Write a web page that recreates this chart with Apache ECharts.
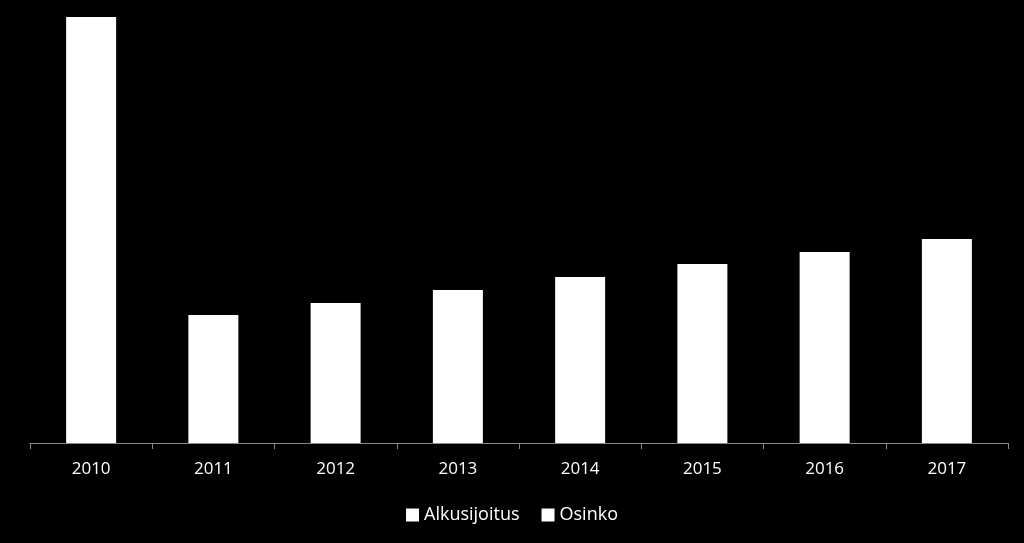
<!DOCTYPE html><html><head><meta charset="utf-8"><script src="https://cdn.jsdelivr.net/npm/echarts@6/dist/echarts.min.js"></script></head><body style="margin:0;background:#000"><div id="c" style="width:1024px;height:543px"></div><script>
const categories=['2010','2011','2012','2013','2014','2015','2016','2017'];
const alkusijoitus=[426,'-','-','-','-','-','-','-'];
const osinko=['-',128,140,153,166,179,191,204];
const ch=echarts.init(document.getElementById('c'));
ch.setOption({backgroundColor:'#000',animation:false,
grid:{left:30,right:16,top:17,bottom:100},
legend:{bottom:14,itemWidth:13,itemHeight:13,itemGap:22,icon:'rect',textStyle:{color:'#fff',fontSize:18,fontFamily:'Open Sans'},data:['Alkusijoitus','Osinko']},
xAxis:{type:'category',data:categories,axisLine:{lineStyle:{color:'#888'}},axisTick:{show:true,length:6,lineStyle:{color:'#888'}},axisLabel:{color:'#fff',fontSize:17,margin:18,fontFamily:'Open Sans'}},
yAxis:{type:'value',min:0,max:426,show:false,splitLine:{show:false}},
series:[{name:'Alkusijoitus',type:'bar',stack:'a',data:alkusijoitus,barWidth:50,itemStyle:{color:'#fff'}},
{name:'Osinko',type:'bar',stack:'a',data:osinko,barWidth:50,itemStyle:{color:'#fff'}}]});
</script></body></html>
